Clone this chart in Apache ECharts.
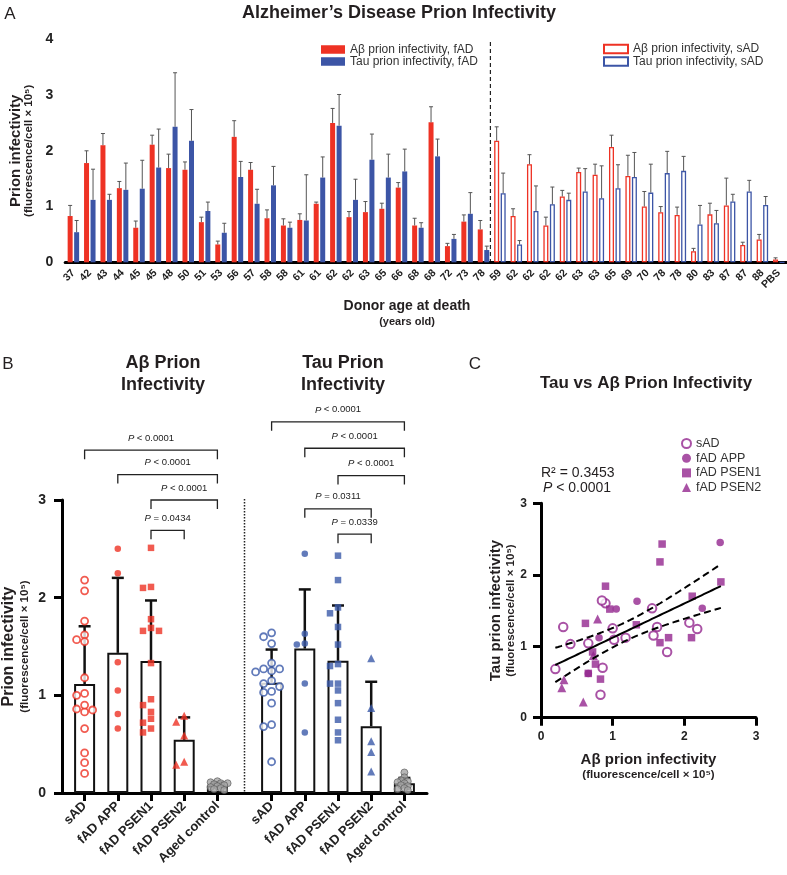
<!DOCTYPE html>
<html><head><meta charset="utf-8">
<script src="https://cdn.jsdelivr.net/npm/echarts@6/dist/echarts.min.js"></script>
<style>html,body{margin:0;padding:0;background:#fff}#c{width:787px;height:875px}</style>
</head><body><div id="c"></div>
<script>
// ---------------- Panel A data (per donor) ----------------
const fadAges = ['37','42','43','44','45','45','48','50','51','53','56','57','58','58','61','61','62','62','63','65','66','68','68','72','73','78'];
const fadGenotype = ['PSEN1','PSEN1','PSEN1','PSEN1','PSEN1','PSEN1','PSEN1','PSEN1','PSEN1','PSEN2','APP','PSEN1','PSEN2','PSEN1','PSEN1','APP','APP','APP','PSEN1','PSEN1','APP','APP','PSEN1','PSEN2','PSEN2','PSEN2'];
const fadAbeta   = [0.83,1.78,2.10,1.33,0.62,2.11,1.69,1.66,0.72,0.32,2.25,1.66,0.79,0.66,0.76,1.05,2.50,0.81,0.90,0.96,1.34,0.66,2.51,0.29,0.73,0.59];
const fadAbetaSD = [0.19,0.22,0.21,0.12,0.12,0.17,0.25,0.14,0.09,0.06,0.29,0.13,0.15,0.12,0.11,0.03,0.26,0.10,0.19,0.10,0.09,0.13,0.28,0.05,0.12,0.16];
const fadTau     = [0.54,1.12,1.12,1.30,1.32,1.70,2.43,2.18,0.92,0.53,1.53,1.05,1.38,0.62,0.75,1.52,2.45,1.12,1.84,1.52,1.63,0.62,1.90,0.42,0.87,0.22];
const fadTauSD   = [0.21,0.55,0.10,0.48,0.51,0.69,0.97,0.56,0.16,0.17,0.28,0.26,0.34,0.10,0.82,0.37,0.56,0.37,0.46,0.42,0.40,0.09,0.31,0.08,0.38,0.07];

const sadAges    = ['59','62','62','62','62','63','63','65','69','70','78','78','80','83','87','87','88'];
const sadAbeta   = [2.18,0.83,1.76,0.66,1.18,1.62,1.57,2.07,1.55,1.00,0.90,0.85,0.20,0.86,1.02,0.31,0.41];
const sadAbetaSD = [0.25,0.13,0.17,0.15,0.11,0.07,0.19,0.21,0.37,0.27,0.10,0.14,0.05,0.20,0.49,0.05,0.09];
const sadTau     = [1.24,0.32,0.92,1.04,1.12,1.27,1.15,1.33,1.53,1.25,1.60,1.64,0.68,0.70,1.09,1.27,1.03];
const sadTauSD   = [0.36,0.07,0.45,0.31,0.12,0.41,0.58,0.42,0.44,0.51,0.39,0.26,0.34,0.23,0.13,0.20,0.15];

const pbsLabel = 'PBS';
const pbsAbeta = 0.05, pbsAbetaSD = 0.03, pbsTau = 0, pbsTauSD = 0;

// ---------------- Panel B extra data ----------------
const groupNames = ['sAD','fAD APP','fAD PSEN1','fAD PSEN2','Aged control'];
const agedAbeta = [0.12,0.11,0.10,0.10,0.09,0.08,0.07,0.06,0.05,0.04,0.03];
const agedTau   = [0.21,0.16,0.13,0.12,0.11,0.10,0.08,0.07,0.05,0.04,0.03];

// annotations (from, to, height in data units, label)
const bracketsAbeta = [[0,4,3.51,'< 0.0001'],[1,4,3.26,'< 0.0001'],[2,4,3.00,'< 0.0001'],[2,3,2.69,'= 0.0434']];
const bracketsTau   = [[0,4,3.80,'< 0.0001'],[1,4,3.53,'< 0.0001'],[2,4,3.25,'< 0.0001'],[1,3,2.91,'= 0.0311'],[2,3,2.65,'= 0.0339']];

// ---------------- Panel C text ----------------
const rSquaredText = 'R² = 0.3453';
const pValueText = '< 0.0001';

// ---------------- styles / layout ----------------
const FONT = '"Liberation Sans", Arial, Helvetica, sans-serif';
const RED = '#ee3224', BLUE = '#3c55a6', BLUE2 = '#3b5aa9', PURPLE = '#93278f', INK = '#231f20';
const A = {left:62, top:39.3, width:725, height:223};
const B = {top:500, height:293};
const B1 = {left:68, width:166}, B2 = {left:255, width:166};
const C = {left:541, top:503.3, width:215, height:214.4};

const nF = fadAges.length, nS = sadAges.length;
const catLabels = fadAges.concat(sadAges, [pbsLabel]);
const nCat = catLabels.length;
const dash = (n) => Array(n).fill('-');

function pick(arr, g) { return arr.filter((v, i) => fadGenotype[i] === g); }
function mean(a) { return a.reduce((s, v) => s + v, 0) / a.length; }
function sd(a) { const m = mean(a); return Math.sqrt(a.reduce((s, v) => s + (v - m) * (v - m), 0) / (a.length - 1)); }

const abetaGroups = [sadAbeta, pick(fadAbeta,'APP'), pick(fadAbeta,'PSEN1'), pick(fadAbeta,'PSEN2'), agedAbeta];
const tauGroups   = [sadTau, pick(fadTau,'APP'), pick(fadTau,'PSEN1'), pick(fadTau,'PSEN2'), agedTau];

// beeswarm layout (deterministic)
function swarm(values, pxPerUnit, d, step) {
  const order = values.map((v, i) => i).sort((a, b) => values[b] - values[a]);
  const placed = [], off = new Array(values.length).fill(0);
  for (const i of order) {
    const y = values[i] * pxPerUnit;
    for (let k = 0; k < 30; k++) {
      const c = k === 0 ? 0 : (k % 2 ? -1 : 1) * Math.ceil(k / 2) * step;
      if (placed.every(p => Math.hypot(p.x - c, p.y - y) >= d)) { off[i] = c; placed.push({x: c, y}); break; }
    }
  }
  return off;
}
const pxB = B.height / 3;

const groupStyles = [
  {symbol:'circle', size:7, itemStyle:(c)=>({color:'#fff', borderColor:c, borderWidth:1.8}), d:6, step:8},
  {symbol:'circle', size:6.5, itemStyle:(c)=>({color:c}), d:6, step:8},
  {symbol:'rect', size:6.5, itemStyle:(c)=>({color:c}), d:6, step:8},
  {symbol:'triangle', size:8, itemStyle:(c)=>({color:c}), d:6, step:8},
  {symbol:'circle', size:7, itemStyle:()=>({color:'#a5a5a5', borderColor:'#555', borderWidth:0.8}), d:3.6, step:3.4}
];

function bScatter(groups, color, axisIdx) {
  return groups.map((vals, gi) => {
    const st = groupStyles[gi];
    const off = swarm(vals, pxB, st.d, st.step);
    return {
      type:'scatter', xAxisIndex:axisIdx, yAxisIndex:axisIdx, symbol:st.symbol, symbolSize:st.size,
      itemStyle:st.itemStyle(color), silent:true, z:5,
      data: vals.map((v, i) => ({value:[gi, v], symbolOffset:[off[i], 0]}))
    };
  });
}

function errRender(offsetPx, color, lw, capHalf) {
  return function (params, api) {
    const x = api.value(0), v = api.value(1), e = api.value(2);
    if (!(e > 0) || isNaN(v)) return null;
    const p0 = api.coord([x, v]), p1 = api.coord([x, v + e]);
    const cx = p0[0] + offsetPx;
    return {type:'group', children:[
      {type:'line', shape:{x1:cx, y1:p0[1], x2:cx, y2:p1[1]}, style:{stroke:color, lineWidth:lw}},
      {type:'line', shape:{x1:cx - capHalf, y1:p1[1], x2:cx + capHalf, y2:p1[1]}, style:{stroke:color, lineWidth:lw}}
    ]};
  };
}

function bracketSeries(list, axisIdx) {
  return {
    type:'custom', xAxisIndex:axisIdx, yAxisIndex:axisIdx, clip:false, silent:true, z:6,
    data: list.map(r => [r[0], r[1], r[2]]),
    renderItem: function (params, api) {
      const a = api.coord([api.value(0), api.value(2)]);
      const b = api.coord([api.value(1), api.value(2)]);
      const leg = 9;
      const lab = list[params.dataIndex][3];
      return {type:'group', children:[
        {type:'polyline', shape:{points:[[a[0], a[1] + leg], [a[0], a[1]], [b[0], b[1]], [b[0], b[1] + leg]]}, style:{stroke:'#222', lineWidth:1.3, fill:null}},
        {type:'text', x:(a[0] + b[0]) / 2, y:a[1] - 12, style:{
          text:'{i|P} ' + lab, font:'9.5px ' + FONT, fill:'#222', align:'center', verticalAlign:'middle',
          rich:{i:{font:'italic 9.5px ' + FONT, fill:'#222'}}
        }}
      ]};
    }
  };
}

// regression of Tau on Aβ over all donors
const allX = sadAbeta.concat(fadAbeta), allY = sadTau.concat(fadTau);
const n = allX.length, mx = mean(allX), my = mean(allY);
let sxx = 0, sxy = 0;
for (let i = 0; i < n; i++) { sxx += (allX[i] - mx) ** 2; sxy += (allX[i] - mx) * (allY[i] - my); }
const slope = sxy / sxx, icpt = my - slope * mx;
let sse = 0; for (let i = 0; i < n; i++) sse += (allY[i] - icpt - slope * allX[i]) ** 2;
const se = Math.sqrt(sse / (n - 2)), tCrit = 2.0195;
const xmin = Math.min(...allX), xmax = Math.max(...allX);
const fitL = [], ciU = [], ciL = [];
for (let k = 0; k <= 60; k++) {
  const x = xmin + (xmax - xmin) * k / 60;
  const y = icpt + slope * x;
  const h = tCrit * se * Math.sqrt(1 / n + (x - mx) ** 2 / sxx);
  fitL.push([x, y]); ciU.push([x, y + h]); ciL.push([x, y - h]);
}
const cGroup = (g) => fadAbeta.map((v, i) => [v, fadTau[i], fadGenotype[i]]).filter(r => r[2] === g).map(r => [r[0], r[1]]);
const sadPairs = sadAbeta.map((v, i) => [v, sadTau[i]]);

// ---------------- axes helpers ----------------
const AX_LINE = {lineStyle:{color:'#000', width:3}};
const AX_TICK = (len) => ({length:len, lineStyle:{color:'#000', width:3}});
const nameRich = (szA, lhA, szB, lhB) => ({
  a:{fontSize:szA, fontWeight:'bold', lineHeight:lhA, color:INK, fontFamily:FONT},
  b:{fontSize:szB, fontWeight:'bold', lineHeight:lhB, color:INK, fontFamily:FONT}
});
const subName = '(fluorescence/cell × 10⁵)';

function txt(x, y, text, font, extra) {
  return Object.assign({type:'text', x, y, silent:true,
    style:Object.assign({text, font:font + ' ' + FONT, fill:INK, align:'center', verticalAlign:'middle'}, (extra || {}))});
}

const dashX = A.left + nF * A.width / nCat;
const dotX = (B1.left + B1.width + B2.left) / 2;

const option = {
  animation:false,
  textStyle:{fontFamily:FONT},
  grid:[
    {left:A.left, top:A.top, width:A.width, height:A.height},
    {left:61, top:B.top, width:366, height:B.height},
    {left:B1.left, top:B.top, width:B1.width, height:B.height},
    {left:B2.left, top:B.top, width:B2.width, height:B.height},
    {left:C.left, top:C.top, width:C.width, height:C.height}
  ],
  xAxis:[
    {gridIndex:0, type:'category', data:catLabels, axisLine:AX_LINE,
     axisTick:Object.assign({alignWithLabel:true, interval:0}, AX_TICK(7)),
     axisLabel:{interval:0, rotate:45, margin:9, fontSize:10.5, fontWeight:'bold', color:'#222'}},
    {gridIndex:1, type:'value', min:0, max:1, axisLine:AX_LINE, axisTick:{show:false}, axisLabel:{show:false}, splitLine:{show:false}},
    {gridIndex:2, type:'category', data:groupNames, axisLine:{show:false},
     axisTick:Object.assign({show:true, alignWithLabel:true, interval:0}, AX_TICK(8)),
     axisLabel:{interval:0, rotate:45, margin:11, fontSize:13, fontWeight:'bold', color:'#222'}},
    {gridIndex:3, type:'category', data:groupNames, axisLine:{show:false},
     axisTick:Object.assign({show:true, alignWithLabel:true, interval:0}, AX_TICK(8)),
     axisLabel:{interval:0, rotate:45, margin:11, fontSize:13, fontWeight:'bold', color:'#222'}},
    {gridIndex:4, type:'value', min:0, max:3, interval:1, axisLine:AX_LINE, axisTick:AX_TICK(8),
     axisLabel:{margin:13, fontSize:12, fontWeight:'bold', color:'#222'}, splitLine:{show:false},
     name:'{a|Aβ prion infectivity}\n{b|' + subName + '}', nameLocation:'middle', nameGap:34,
     nameTextStyle:{rich:nameRich(15, 16, 11.5, 14)}}
  ],
  yAxis:[
    {gridIndex:0, type:'value', min:0, max:4, interval:1, axisLine:AX_LINE, axisTick:AX_TICK(8),
     axisLabel:{margin:12, fontSize:14, fontWeight:'bold', color:'#222'}, splitLine:{show:false},
     name:'{a|Prion infectivity}\n{b|' + subName + '}', nameLocation:'middle', nameRotate:90, nameGap:28,
     nameTextStyle:{rich:nameRich(15, 14, 11.5, 12)}},
    {gridIndex:1, type:'value', min:0, max:3, interval:1, axisLine:AX_LINE, axisTick:AX_TICK(8),
     axisLabel:{margin:16, fontSize:14, fontWeight:'bold', color:'#222'}, splitLine:{show:false},
     name:'{a|Prion infectivity}\n{b|' + subName + '}', nameLocation:'middle', nameRotate:90, nameGap:30,
     nameTextStyle:{rich:nameRich(16, 18, 11.5, 14)}},
    {gridIndex:2, type:'value', min:0, max:3, show:false},
    {gridIndex:3, type:'value', min:0, max:3, show:false},
    {gridIndex:4, type:'value', min:0, max:3, interval:1, axisLine:AX_LINE, axisTick:AX_TICK(8),
     axisLabel:{margin:14, fontSize:12, fontWeight:'bold', color:'#222'}, splitLine:{show:false},
     name:'{a|Tau prion infectivity}\n{b|' + subName + '}', nameLocation:'middle', nameRotate:90, nameGap:20,
     nameTextStyle:{rich:nameRich(15, 16, 11.5, 14)}}
  ],
  legend:[
    {data:['Aβ prion infectivity, fAD','Tau prion infectivity, fAD'], left:321, top:43.5, orient:'vertical',
     icon:'rect', itemWidth:24, itemHeight:8.5, itemGap:0, padding:0, selectedMode:false,
     textStyle:{fontSize:12, color:'#333', lineHeight:12}},
    {data:['Aβ prion infectivity, sAD','Tau prion infectivity, sAD'], left:603, top:43, orient:'vertical',
     icon:'rect', itemWidth:24, itemHeight:8.5, itemGap:0.5, padding:0, selectedMode:false,
     textStyle:{fontSize:12, color:'#333', lineHeight:12}},
    {data:['sAD','fAD APP','fAD PSEN1','fAD PSEN2'], left:681, top:437, orient:'vertical',
     itemWidth:9, itemHeight:9, itemGap:1.7, padding:0, selectedMode:false,
     textStyle:{fontSize:12.5, color:'#333', lineHeight:13}}
  ],
  graphic:[
    txt(10, 14, 'A', '17px'),
    txt(399, 13, 'Alzheimer’s Disease Prion Infectivity', 'bold 18px'),
    txt(407, 306, 'Donor age at death', 'bold 14px'),
    txt(407, 322, '(years old)', 'bold 11px'),
    txt(8, 364, 'B', '17px'),
    txt(163, 363, 'Aβ Prion', 'bold 18px'),
    txt(163, 385, 'Infectivity', 'bold 18px'),
    txt(343, 363, 'Tau Prion', 'bold 18px'),
    txt(343, 385, 'Infectivity', 'bold 18px'),
    txt(475, 364, 'C', '17px'),
    txt(646, 383, 'Tau vs Aβ Prion Infectivity', 'bold 17px'),
    txt(541, 473, rSquaredText, '14px', {align:'left'}),
    txt(543, 488, '{i|P} ' + pValueText, '14px', {align:'left', rich:{i:{font:'italic 14px ' + FONT, fill:INK}}}),
    {type:'line', silent:true, shape:{x1:dashX, y1:42, x2:dashX, y2:A.top + A.height}, style:{stroke:'#222', lineWidth:1.2, lineDash:[4,3]}},
    {type:'line', silent:true, shape:{x1:dotX, y1:B.top - 1, x2:dotX, y2:B.top + B.height - 1}, style:{stroke:'#222', lineWidth:1.5, lineDash:[1.5,1.5]}}
  ],
  series:[]
};

const S = option.series;
// Panel A bars
S.push({name:'Aβ prion infectivity, fAD', type:'bar', stack:'ab', xAxisIndex:0, yAxisIndex:0, barWidth:5, barGap:'30%',
  data:fadAbeta.concat(dash(nS + 1)), itemStyle:{color:RED}});
S.push({name:'Tau prion infectivity, fAD', type:'bar', stack:'tau', xAxisIndex:0, yAxisIndex:0, barWidth:5, barGap:'30%',
  data:fadTau.concat(dash(nS + 1)), itemStyle:{color:BLUE}});
S.push({name:'Aβ prion infectivity, sAD', type:'bar', stack:'ab', xAxisIndex:0, yAxisIndex:0, barWidth:5, barGap:'30%',
  data:dash(nF).concat(sadAbeta, [pbsAbeta]), itemStyle:{color:'#fff', borderColor:RED, borderWidth:1.3}});
S.push({name:'Tau prion infectivity, sAD', type:'bar', stack:'tau', xAxisIndex:0, yAxisIndex:0, barWidth:5, barGap:'30%',
  data:dash(nF).concat(sadTau, [pbsTau]), itemStyle:{color:'#fff', borderColor:BLUE, borderWidth:1.3}});
const abAll = fadAbeta.concat(sadAbeta, [pbsAbeta]), abSD = fadAbetaSD.concat(sadAbetaSD, [pbsAbetaSD]);
const tauAll = fadTau.concat(sadTau, [pbsTau]), tauSDAll = fadTauSD.concat(sadTauSD, [pbsTauSD]);
S.push({type:'custom', xAxisIndex:0, yAxisIndex:0, silent:true, z:4, renderItem:errRender(-3.25, '#555', 1, 2),
  data:abAll.map((v, i) => [i, v, abSD[i]])});
S.push({type:'custom', xAxisIndex:0, yAxisIndex:0, silent:true, z:4, renderItem:errRender(3.25, '#555', 1, 2),
  data:tauAll.map((v, i) => [i, v, tauSDAll[i]])});

// Panel B bars + error bars
[[abetaGroups, 2], [tauGroups, 3]].forEach(([groups, ax]) => {
  S.push({type:'bar', xAxisIndex:ax, yAxisIndex:ax, barWidth:21, silent:true,
    data:groups.map(mean), itemStyle:{color:'#fff', borderColor:'#111', borderWidth:2}});
  S.push({type:'custom', xAxisIndex:ax, yAxisIndex:ax, silent:true, z:4, renderItem:errRender(0, '#111', 2.5, 6),
    data:groups.map((g, i) => [i, mean(g), sd(g)])});
});
bScatter(abetaGroups, RED, 2).forEach(s => S.push(s));
bScatter(tauGroups, BLUE2, 3).forEach(s => S.push(s));
S.push(bracketSeries(bracketsAbeta, 2));
S.push(bracketSeries(bracketsTau, 3));

// Panel C
S.push({name:'sAD', type:'scatter', xAxisIndex:4, yAxisIndex:4, symbol:'circle', symbolSize:8.5,
  itemStyle:{color:'#fff', borderColor:PURPLE, borderWidth:2}, data:sadPairs});
S.push({name:'fAD APP', type:'scatter', xAxisIndex:4, yAxisIndex:4, symbol:'circle', symbolSize:7.5,
  itemStyle:{color:PURPLE}, data:cGroup('APP')});
S.push({name:'fAD PSEN1', type:'scatter', xAxisIndex:4, yAxisIndex:4, symbol:'rect', symbolSize:7.5,
  itemStyle:{color:PURPLE}, data:cGroup('PSEN1')});
S.push({name:'fAD PSEN2', type:'scatter', xAxisIndex:4, yAxisIndex:4, symbol:'triangle', symbolSize:9,
  itemStyle:{color:PURPLE}, data:cGroup('PSEN2')});
[[fitL, 'solid'], [ciU, [7,4]], [ciL, [7,4]]].forEach(([d, t]) => {
  S.push({type:'line', xAxisIndex:4, yAxisIndex:4, data:d, symbol:'none', silent:true, z:6,
    lineStyle:{color:'#000', width:2, type:t}});
});

const chart = echarts.init(document.getElementById('c'), null, {renderer:'canvas'});
chart.setOption(option);
</script>
</body></html>
